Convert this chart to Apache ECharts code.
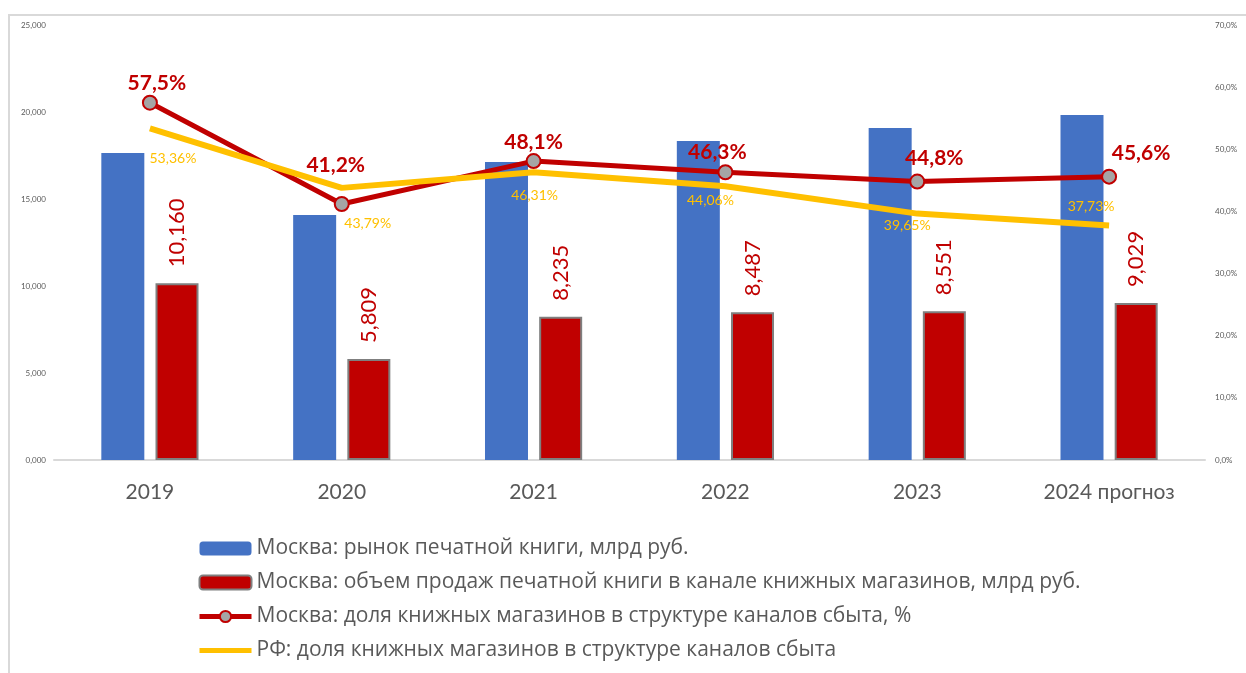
<!DOCTYPE html>
<html lang="ru">
<head>
<meta charset="utf-8">
<title>Рынок печатной книги, Москва</title>
<script src="https://cdn.jsdelivr.net/npm/echarts@6/dist/echarts.min.js"></script>
<style>
  html, body { margin: 0; padding: 0; background: #ffffff; }
  #chart { width: 1246px; height: 673px; }
</style>
</head>
<body>
<div id="chart"></div>
<script>
// Years on the category axis
const categories = ['2019', '2020', '2021', '2022', '2023', '2024 прогноз'];
// Москва: рынок печатной книги, млрд руб.
const marketTotal = [17.64, 14.08, 17.13, 18.33, 19.08, 19.83];
// Москва: объем продаж в канале книжных магазинов, млрд руб.
const storeSales = [10.160, 5.809, 8.235, 8.487, 8.551, 9.029];
// Москва: доля книжных магазинов, %
const moscowShare = [57.5, 41.2, 48.1, 46.3, 44.8, 45.6];
// РФ: доля книжных магазинов, %
const russiaShare = [53.36, 43.79, 46.31, 44.06, 39.65, 37.73];
// Axis ranges
const leftTicks = [0, 5, 10, 15, 20, 25];
const rightTicks = [0, 10, 20, 30, 40, 50, 60, 70];

const seriesNames = [
  'Москва: рынок печатной книги, млрд руб.',
  'Москва: объем продаж печатной книги в канале книжных магазинов, млрд руб.',
  'Москва: доля книжных магазинов в структуре каналов сбыта, %',
  'РФ: доля книжных магазинов в структуре каналов сбыта'
];

// Hand-placed label nudges for the two share lines
const moscowLabelOffsets = [[7, 4], [-6, -15], [0, 5], [-8, 3], [17, 0], [32, 0]];
const russiaLabelOffsets = [[23, 30], [26, 36], [1, 23], [-15, 14], [-10, 12], [-18, -19]];

const numFont = 'Lato, "Open Sans", sans-serif';
const textFont = '"Open Sans", sans-serif';
const fmt = (v, d) => Number(v).toFixed(d).replace('.', ',');

const chart = echarts.init(document.getElementById('chart'), null, { renderer: 'canvas' });

chart.setOption({
  animation: false,
  backgroundColor: '#ffffff',
  graphic: [
    { type: 'polyline', silent: true, z: -1,
      shape: { points: [[9, 673], [9, 15], [1246, 15]] },
      style: { stroke: '#D9D9D9', lineWidth: 2, fill: null } }
  ],
  grid: {
    left: 54, right: 41, top: 25, bottom: 213,
    containLabel: false, outerBoundsMode: 'none'
  },
  legend: {
    orient: 'vertical',
    left: 192,
    top: 532,
    itemWidth: 52,
    itemHeight: 14,
    itemGap: 11,
    textStyle: { fontFamily: textFont, fontSize: 21, color: '#595959', lineHeight: 23 },
    data: [
      { name: seriesNames[0] },
      { name: seriesNames[1] },
      { name: seriesNames[2], lineStyle: { width: 5 } },
      { name: seriesNames[3], lineStyle: { width: 5 }, itemStyle: { opacity: 0 } }
    ]
  },
  xAxis: {
    type: 'category',
    data: categories,
    axisTick: { show: false },
    axisLine: { lineStyle: { color: '#D9D9D9', width: 2 } },
    axisLabel: { fontFamily: numFont, fontSize: 21, color: '#595959', margin: 22 }
  },
  yAxis: [
    {
      type: 'value',
      min: leftTicks[0], max: leftTicks[leftTicks.length - 1], interval: leftTicks[1] - leftTicks[0],
      splitLine: { show: false },
      axisLine: { show: false },
      axisTick: { show: false },
      axisLabel: { fontFamily: numFont, fontSize: 8, color: '#595959', margin: 8,
        formatter: v => fmt(v, 3) }
    },
    {
      type: 'value',
      min: rightTicks[0], max: rightTicks[rightTicks.length - 1], interval: rightTicks[1] - rightTicks[0],
      splitLine: { show: false },
      axisLine: { show: false },
      axisTick: { show: false },
      axisLabel: { fontFamily: numFont, fontSize: 8, color: '#595959', margin: 10,
        formatter: v => fmt(v, 1) + '%' }
    }
  ],
  series: [
    {
      name: seriesNames[0],
      type: 'bar',
      yAxisIndex: 0,
      data: marketTotal,
      barWidth: 43,
      barGap: '26%',
      itemStyle: { color: '#4472C4' }
    },
    {
      name: seriesNames[1],
      type: 'bar',
      yAxisIndex: 0,
      data: storeSales,
      barWidth: 43,
      itemStyle: { color: '#C00000', borderColor: '#7F7F7F', borderWidth: 2 },
      label: {
        show: true,
        position: 'top',
        rotate: 90,
        align: 'left',
        verticalAlign: 'middle',
        distance: 16,
        fontFamily: numFont,
        fontSize: 22,
        color: '#C00000',
        formatter: p => fmt(p.value, 3)
      }
    },
    {
      name: seriesNames[2],
      type: 'line',
      yAxisIndex: 1,
      data: moscowShare.map((v, i) => ({ value: v, label: { offset: moscowLabelOffsets[i] } })),
      symbol: 'circle',
      symbolSize: 14,
      lineStyle: { color: '#C00000', width: 5 },
      itemStyle: { color: '#A5A5A5', borderColor: '#C00000', borderWidth: 2 },
      label: {
        show: true,
        position: 'top',
        fontFamily: numFont,
        fontSize: 21,
        fontWeight: 'bold',
        color: '#C00000',
        formatter: p => fmt(p.value, 1) + '%'
      },
      z: 3
    },
    {
      name: seriesNames[3],
      type: 'line',
      yAxisIndex: 1,
      data: russiaShare.map((v, i) => ({ value: v, label: { offset: russiaLabelOffsets[i] } })),
      symbol: 'circle',
      symbolSize: 0,
      lineStyle: { color: '#FFC000', width: 6 },
      itemStyle: { color: '#FFC000' },
      label: {
        show: true,
        position: 'inside',
        fontFamily: numFont,
        fontSize: 14,
        color: '#FFC000',
        formatter: p => fmt(p.value, 2) + '%'
      },
      z: 4
    }
  ]
});
</script>
</body>
</html>
